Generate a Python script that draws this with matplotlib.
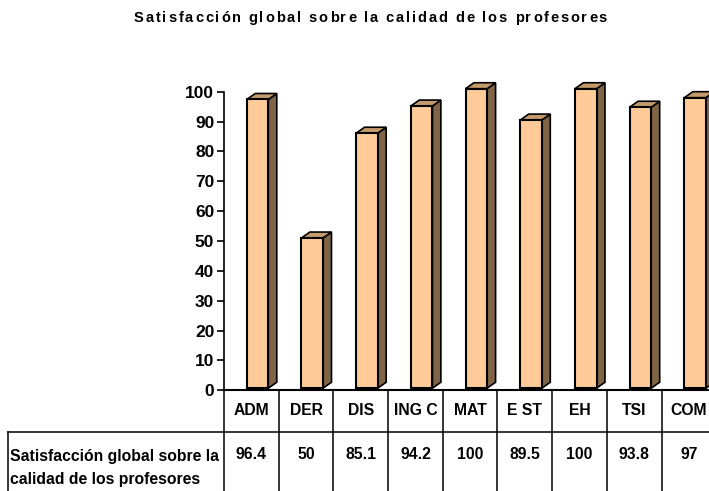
import matplotlib
matplotlib.use("Agg")
import matplotlib.pyplot as plt
from matplotlib.patches import Polygon, Rectangle
from matplotlib.textpath import TextToPath
from matplotlib.font_manager import FontProperties

plt.rcParams['font.family'] = ['Liberation Sans', 'DejaVu Sans']
plt.rcParams['font.weight'] = 'bold'

categories = ['ADM', 'DER', 'DIS', 'ING C', 'MAT', 'E ST', 'EH', 'TSI', 'COM']
values = [96.4, 50, 85.1, 94.2, 100, 89.5, 100, 93.8, 97]
value_labels = ['96.4', '50', '85.1', '94.2', '100', '89.5', '100', '93.8', '97']
row_label = 'Satisfacción global sobre la\ncalidad de los profesores'
title = 'Satisfacción global sobre la calidad de los profesores'

front_col = '#FFCC99'
top_col = '#C39A6B'
side_col = '#7F6446'

W, H = 709, 491
fig = plt.figure(figsize=(W / 100, H / 100), dpi=100)
# axes spans beyond the right edge, like the original (clipped chart)
x0, y0 = 224, 390.3
cell = 54.7
ax = fig.add_axes([x0 / W, (H - y0) / H, 9 * cell / W, 298.6 / H])
ax.set_xlim(0, 9)
ax.set_ylim(0, 100)

# 3d-ish bars
bw = 0.395     # front width
off = 0.415    # left edge inside category cell
dx, dy = 0.155, 2.0
lift = 1.0
for i, v in enumerate(values):
    xl = i + off
    xr = xl + bw
    yb, yt = lift - 0.3, v + lift
    ax.add_patch(Polygon([(xr, yb), (xr + dx, yb + dy), (xr + dx, yt + dy), (xr, yt)],
                         closed=True, fc=side_col, ec='black', lw=1.2, zorder=3,
                         clip_on=False))
    ax.add_patch(Polygon([(xl, yt), (xl + dx, yt + dy), (xr + dx, yt + dy), (xr, yt)],
                         closed=True, fc=top_col, ec='black', lw=1.2, zorder=3,
                         clip_on=False))
    ax.add_patch(Rectangle((xl, yb), bw, yt - yb, fc=front_col, ec='black',
                           lw=1.5, zorder=4, clip_on=False))

for s in ['top', 'right']:
    ax.spines[s].set_visible(False)
ax.spines['left'].set_linewidth(1.2)
ax.spines['bottom'].set_linewidth(1.5)
ax.set_yticks(range(0, 101, 10))
ax.tick_params(axis='y', direction='out', length=5, width=1.2, labelsize=12.5, pad=2)
ax.set_xticks([])
for lab in ax.get_yticklabels():
    lab.set_fontweight('bold')

# data table under the chart
row1_bot = -13.96
row2_bot = -40
left_x = -3.95
kw = dict(color='black', lw=1.1, clip_on=False, zorder=5)
ax.plot([0, 0], [0, row2_bot], **kw)
for i in range(1, 10):
    ax.plot([i, i], [0, row2_bot], **kw)
ax.plot([left_x, 9], [row1_bot, row1_bot], **kw)
ax.plot([left_x, left_x], [row1_bot, row2_bot], **kw)

for i, (c, vl) in enumerate(zip(categories, value_labels)):
    ax.text(i + 0.5, -6.9, c, ha='center', va='center', fontsize=11.3,
            fontweight='bold', clip_on=False)
    ax.text(i + 0.5, -21.6, vl, ha='center', va='center', fontsize=11.3,
            fontweight='bold', clip_on=False)

fig.text(10 / W, 1 - 468 / H, row_label, ha='left', va='center', fontsize=11.3,
         fontweight='bold', linespacing=1.7)

# title with wide letter spacing (spread over x=134..607 px)
tsize = 10.5
prop = FontProperties(family='Liberation Sans', weight='bold', size=tsize)
t2p = TextToPath()
widths = [t2p.get_text_width_height_descent(ch, prop, ismath=False)[0] * 100 / 72
          for ch in title]
t_left, t_right = 134, 607
track = (t_right - t_left - sum(widths)) / (len(title) - 1)
xpos = t_left
for ch, w in zip(title, widths):
    fig.text(xpos / W, 1 - 18 / H, ch, ha='left', va='center', fontsize=tsize,
             fontweight='bold')
    xpos += w + track

fig.savefig('out.png', dpi=100)
